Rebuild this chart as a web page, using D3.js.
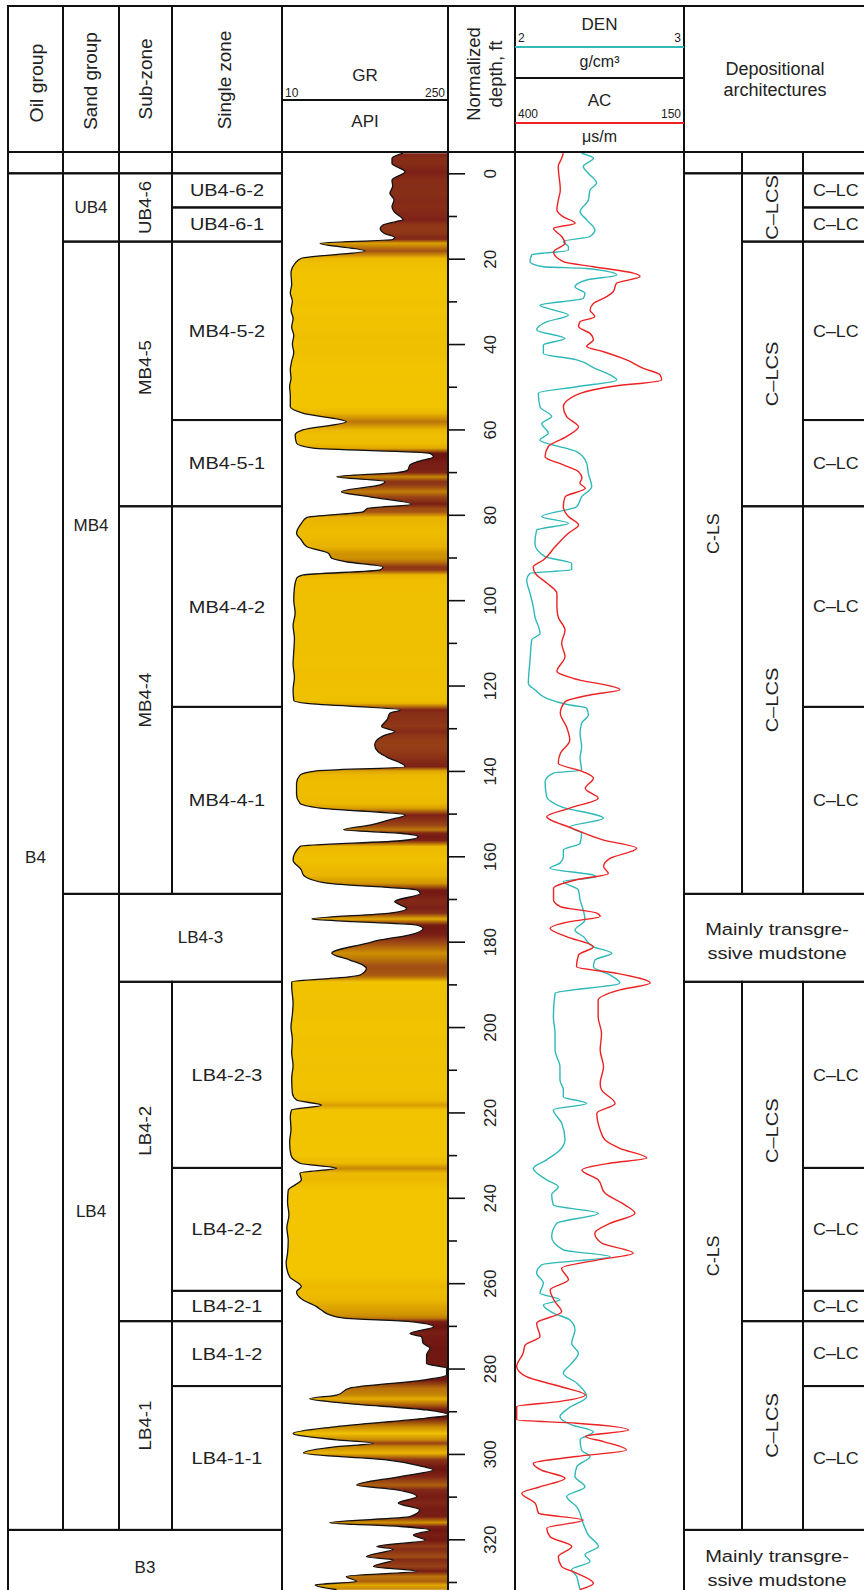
<!DOCTYPE html>
<html><head><meta charset="utf-8">
<script src="https://cdn.jsdelivr.net/npm/d3@7/dist/d3.min.js"></script>
<style>
body{margin:0;background:#fff}
svg{display:block}
text{font-family:"Liberation Sans",Arial,sans-serif;fill:#222}
</style>
</head><body>
<svg id="chart" width="864" height="1590"></svg>
<script>
// ---------- DATA ----------
const grRange = [10, 250];
const denRange = [2, 3];
const acRange = [400, 150];
const depthTicks = d3.range(0, 331, 10);
const depthLabels = d3.range(0, 321, 20);

// [depth ft, GR API]
const grLog = [[-4.7,185],[-3.5,169],[-2.3,169],[-0.4,188],[1.6,169],[3,170],[4.7,166],[6.2,172],[7.8,169],[9,172],[10.9,185],[11.3,175],[12.1,156],[12.9,152],[14.1,158],[15,173],[15.5,170],[16.4,65],[18.2,130],[19.9,38],[21.1,29],[23.4,23],[26,24],[28,22],[30,25],[32,23],[34,26],[36,24],[38,27],[40,25],[42,27],[44,24],[46,22],[48,23],[50,21],[52,22],[54.7,22],[56.2,40],[58.2,103],[60.1,40],[61.3,29],[63.2,31],[64.4,55],[65.6,224],[66.4,229],[67.6,205],[68.3,195],[69.5,192],[70.1,176],[71.1,89],[72.2,159],[73,152],[74.6,96],[75.8,137],[77.5,197],[78.5,134],[79.3,127],[80.6,46],[82,38],[84.3,31],[85.9,38],[87.5,46],[89,77],[90.2,82],[91,103],[92.2,156],[92.9,152],[94.1,41],[94.9,31],[97,28],[100,27],[103,29],[106,26],[109,28],[112,27],[115,26],[118,28],[121,26],[123.5,27],[124.2,46],[125.7,181],[126.5,166],[128,162],[129.6,154],[130.8,173],[131.6,159],[132.8,147],[133.9,144],[135.5,149],[136.7,161],[139,188],[140,60],[141,36],[142.9,31],[145.6,31],[147.6,36],[148.7,65],[150.3,188],[151.5,164],[152.7,137],[153.8,99],[154.6,181],[155.4,207],[156.3,185],[157.7,36],[160.9,26],[163.2,38],[164.4,41],[166.3,75],[167.9,205],[168.7,210],[170.6,173],[171.4,181],[172.2,190],[173.3,166],[174.7,53],[175.3,113],[176.1,205],[176.9,214],[178.4,195],[179.6,152],[180.4,132],[182.7,82],[184.3,108],[185.5,127],[186.2,132],[187.8,123],[188.3,104],[189.4,24],[190.5,24],[194.4,26],[197,25],[200,23],[203,25],[206,24],[209,26],[212,24],[215.5,25],[217.1,31],[218.3,67],[219.4,24],[221,22],[224,23],[227,21],[230,23],[231.9,36],[233.1,89],[234.2,36],[235.8,38],[238.2,19],[241,18],[244,20],[247,17],[250,19],[253,18],[255.3,16],[258.5,21],[260.8,38],[262,31],[263.9,40],[265.5,60],[266.3,67],[267.4,79],[268.2,100],[269,195],[270.2,229],[271.8,195],[272.6,212],[274.1,214],[275.2,224],[276.8,219],[278.8,219],[279.9,248],[281.5,248],[282.7,214],[284.6,108],[286.2,89],[287.1,50],[288.1,99],[289.7,219],[290.9,250],[291.6,219],[293.6,89],[295.2,26],[296.7,89],[297.5,142],[298.3,89],[299.8,41],[301.4,161],[303,214],[303.7,229],[305.3,181],[307.3,118],[308.4,176],[310,205],[311.5,178],[313.1,209],[314.7,195],[316.1,79],[317,181],[317.8,224],[319,200],[320.2,217],[321.7,147],[322.3,171],[324.1,132],[324.8,171],[326.4,142],[327.5,205],[328.7,103],[329.9,118],[330.7,58],[331.8,89]];

// [depth ft, DEN g/cm3]
const denLog = [[-4.7,2.394],[-3.5,2.464],[-1.6,2.404],[0,2.434],[2.3,2.483],[3.9,2.444],[6.3,2.434],[9,2.385],[10.9,2.424],[13.3,2.473],[14.8,2.444],[16,2.286],[17.2,2.316],[18,2.316],[19.1,2.099],[20.7,2.089],[21.9,2.168],[22.3,2.424],[23.8,2.602],[25,2.424],[26.6,2.355],[28.1,2.414],[29.3,2.404],[30.9,2.148],[32,2.227],[33.2,2.316],[34.8,2.187],[36.7,2.128],[38.7,2.296],[40.2,2.168],[42.2,2.168],[43.7,2.365],[45.7,2.473],[47.2,2.562],[48.4,2.602],[50,2.365],[51.5,2.138],[54.7,2.148],[57,2.217],[58.6,2.158],[60.9,2.197],[62.5,2.148],[65.2,2.365],[67.9,2.424],[70.3,2.434],[73.4,2.454],[75.8,2.394],[78.1,2.365],[80.4,2.158],[82,2.316],[83.6,2.128],[86.7,2.118],[89.8,2.178],[91.4,2.335],[92.9,2.335],[93.7,2.089],[95.3,2.069],[98.4,2.089],[101.5,2.108],[103.9,2.118],[107.8,2.148],[109.3,2.099],[114,2.089],[119.5,2.079],[121,2.118],[123,2.187],[124.5,2.316],[125.3,2.424],[126.9,2.434],[128.8,2.394],[131.2,2.385],[134.3,2.394],[137,2.385],[139.8,2.394],[140.5,2.227],[142.5,2.178],[146,2.187],[148.4,2.276],[151.1,2.523],[153.1,2.325],[154.6,2.394],[157,2.385],[158.5,2.286],[160.1,2.286],[161.6,2.266],[162.8,2.207],[164.4,2.464],[164.8,2.483],[165.9,2.286],[167.9,2.375],[170.2,2.385],[172.6,2.404],[174.9,2.414],[177.3,2.355],[178.8,2.404],[181.2,2.464],[182.7,2.572],[184.3,2.473],[185.9,2.464],[187.8,2.562],[189.7,2.621],[192.1,2.237],[197.6,2.227],[201.5,2.237],[205.4,2.237],[209.3,2.266],[212.4,2.266],[214.7,2.286],[216.3,2.286],[217.9,2.424],[219.4,2.227],[222.5,2.276],[226.4,2.296],[228.8,2.266],[231.1,2.187],[233.1,2.108],[235.8,2.187],[237.4,2.256],[239.3,2.217],[241.7,2.227],[243.6,2.493],[246,2.246],[249.1,2.217],[252.2,2.286],[253.8,2.562],[255.7,2.158],[257.6,2.128],[260,2.168],[262.3,2.148],[263.9,2.266],[265.1,2.168],[267,2.227],[268.6,2.325],[270.9,2.355],[274.1,2.335],[276.4,2.375],[278.8,2.335],[281.1,2.286],[283.4,2.365],[286.6,2.424],[289.3,2.316],[291.3,2.266],[293.2,2.335],[294.8,2.464],[296.7,2.385],[299.1,2.394],[300.6,2.444],[303,2.365],[305.3,2.355],[307.7,2.414],[310,2.306],[312.4,2.365],[316.3,2.404],[319,2.434],[321.7,2.493],[323.6,2.414],[325.2,2.444],[327.1,2.335],[328.7,2.365],[330.3,2.375],[331.8,2.385]];

// [depth ft, AC us/m]
const acLog = [[-4.7,328.5],[-3.5,331],[-1.6,336],[3.9,333],[6.3,336],[8.6,338],[10.2,328.5],[11.7,311],[12.9,343],[14.8,331],[16.4,326],[18.4,343],[20.7,328.5],[21.9,284],[23.4,225],[24.2,215],[25.8,250],[27.7,254.5],[28.9,264.4],[30.5,284],[32,289],[33.6,282],[34.8,304],[35.9,306],[37.5,289],[39,284],[40.6,294],[41.8,269],[43.7,235],[45.7,210],[47.2,185.5],[48.4,183],[50,259.5],[51.9,309],[54.7,328.5],[57,323.6],[59.4,306],[61.7,324],[64,350.7],[66.4,355.6],[68.3,328.5],[69.9,306],[71.4,301],[72.6,304],[73.8,296],[75.8,326],[78.1,328.5],[80.4,321],[82.4,306],[84.3,321],[87.5,340.8],[90.6,358],[92.2,373],[93.7,370],[96,353],[98.4,338],[101.5,338],[104,336],[107,326],[110.1,331],[113.2,326],[116.7,338],[118.3,314],[121,245],[122.2,289],[123.8,326],[126.5,333],[129.6,324],[132.8,319],[135.9,333],[138.2,336],[140.2,299],[141.7,284],[144.1,296],[146.4,277],[148.7,319],[150.7,353],[153.4,316],[156.2,269],[158.1,220],[160.5,259.5],[162.4,269],[164,262],[165.5,309],[167.5,343],[170.2,343],[171.8,333],[173.3,279],[174.1,274],[175.3,319],[176.9,348],[178.8,324],[181.2,284],[183.1,306],[185.9,309],[187.4,250],[189.7,200],[191.3,245],[193.7,277],[197.6,277],[201.5,272],[205.4,274],[209.3,269],[213.2,274],[214.7,272],[217.9,252],[220.2,279],[224.1,274],[226.4,267],[228.4,245],[230.7,205],[231.9,260],[233.5,301],[235.8,277],[238.9,267],[241.7,237],[243.6,222.5],[246,259.5],[248.3,282],[250.6,272],[253,225],[254.6,279],[256.5,331],[259.2,321],[261.6,348],[264.3,341],[266.7,331],[269.4,368],[272.5,363],[274.5,385],[276.4,388],[279.5,397.5],[281.9,383],[284.2,333],[286.2,296],[287.7,333],[288.9,397.5],[292,397.5],[292.8,309],[294.4,232],[295.9,296],[297.1,269],[299.1,235],[300.6,309],[302.2,373],[303.8,361],[305.7,326],[307.7,363],[309.2,390],[311.6,370],[313.9,365],[315.5,299],[317.4,353],[319.4,348],[321.7,316],[324.1,336],[326.4,331],[327.9,309],[330.3,284],[331.8,304]];

// zone tables: [label, top ft, base ft, (label depth)]
const oilGroups = [["B4",0,317.8,160.2],["B3",317.8,345,326.5]];
const sandGroups = [["UB4",0,16],["MB4",16,168.8,82.4],["LB4",168.8,317.8]];
const subZones = [["UB4-6",0,16],["MB4-5",16,78,45.5],["MB4-4",78,168.8],["LB4-3",168.8,189.4],["LB4-2",189.4,268.9,224.3],["LB4-1",268.9,317.8]];
const singleZones = [["UB4-6-2",0,8],["UB4-6-1",8,16],["MB4-5-2",16,57.8],["MB4-5-1",57.8,78],["MB4-4-2",78,125],["MB4-4-1",125,168.8],["LB4-2-3",189.4,233],["LB4-2-2",233,261.8],["LB4-2-1",261.8,268.9],["LB4-1-2",268.9,284.1],["LB4-1-1",284.1,317.8]];
const archBelts = [["C-LS",0,168.8],["Mainly transgre-|ssive mudstone",168.8,189.4,179.8],["C-LS",189.4,317.8],["Mainly transgre-|ssive mudstone",317.8,345,326.7]];
const archComplexes = [["C–LCS",0,16],["C–LCS",16,78],["C–LCS",78,168.8],["C–LCS",189.4,268.9,224.3],["C–LCS",268.9,317.8]];
const archSingles = [["C–LC",0,8],["C–LC",8,16],["C–LC",16,57.8],["C–LC",57.8,78],["C–LC",78,125],["C–LC",125,168.8],["C–LC",189.4,233],["C–LC",233,261.8],["C–LC",261.8,268.9],["C–LC",268.9,284.1],["C–LC",284.1,317.8]];

// ---------- LAYOUT ----------
const W = 864, H = 1590;
const X = {oil:8, sand:63, sub:119, single:172, gr:282, depth:448, logs:515, arch:684, arch2:742, arch3:803, end:880};
const TOP = 6, HEAD = 152;
const svg = d3.select("#chart");
const y = d3.scaleLinear().domain([0, 320]).range([173.3, 1539.3]);
const xGR = d3.scaleLinear().domain(grRange).range([X.gr, X.depth]);
const xDEN = d3.scaleLinear().domain(denRange).range([X.logs, X.arch]);
const xAC = d3.scaleLinear().domain(acRange).range([X.logs, X.arch]);
const grColor = d3.scaleLinear()
  .domain([20, 45, 80, 110, 140, 180, 230])
  .range(["#f2c500","#e9b300","#cf9200","#b56c0c","#984216","#802418","#6c1410"])
  .clamp(true);

const LW = 2;
function label(x, yy, s, o = {}) {
  return svg.append("text")
    .attr("transform", `translate(${x},${yy}) rotate(${o.rot || 0}) scale(${o.sx || 1},1)`)
    .attr("text-anchor", o.anchor || "middle")
    .attr("dominant-baseline", o.base || "central")
    .style("font-size", (o.size || 18) + "px")
    .text(s);
}

// ---------- GR fill ----------
const defs = svg.append("defs");
defs.append("clipPath").attr("id", "grClip").append("rect")
  .attr("x", X.gr).attr("y", HEAD).attr("width", X.depth - X.gr).attr("height", H - HEAD);
const dMin = grLog[0][0], dMax = grLog[grLog.length - 1][0];
const grad = defs.append("linearGradient").attr("id", "grGrad")
  .attr("gradientUnits", "userSpaceOnUse")
  .attr("x1", 0).attr("x2", 0).attr("y1", y(dMin)).attr("y2", y(dMax));
grad.selectAll("stop").data(grLog).join("stop")
  .attr("offset", d => (y(d[0]) - y(dMin)) / (y(dMax) - y(dMin)))
  .attr("stop-color", d => grColor(d[1]));

const grArea = d3.area().curve(d3.curveMonotoneY)
  .y(d => y(d[0])).x0(X.depth).x1(d => xGR(d[1]));
const grLine = d3.line().curve(d3.curveMonotoneY)
  .y(d => y(d[0])).x(d => xGR(d[1]));
const grG = svg.append("g").attr("clip-path", "url(#grClip)");
grG.append("path").datum(grLog).attr("d", grArea).attr("fill", "url(#grGrad)");
grG.append("path").datum(grLog).attr("d", grLine).attr("fill", "none")
  .attr("stroke", "#111").attr("stroke-width", 1.3);

// ---------- DEN / AC ----------
defs.append("clipPath").attr("id", "logClip").append("rect")
  .attr("x", X.logs).attr("y", HEAD).attr("width", X.arch - X.logs).attr("height", H - HEAD);
const logG = svg.append("g").attr("clip-path", "url(#logClip)");
logG.append("path").datum(denLog)
  .attr("d", d3.line().curve(d3.curveMonotoneY).y(d => y(d[0])).x(d => xDEN(d[1])))
  .attr("fill", "none").attr("stroke", "#2fb8b8").attr("stroke-width", 1.4);
logG.append("path").datum(acLog)
  .attr("d", d3.line().curve(d3.curveMonotoneY).y(d => y(d[0])).x(d => xAC(d[1])))
  .attr("fill", "none").attr("stroke", "#ec2222").attr("stroke-width", 1.4);

// ---------- frame helpers ----------
function line(x1, y1, x2, y2, c = "#111", w = LW) {
  svg.append("line").attr("x1", x1).attr("y1", y1).attr("x2", x2).attr("y2", y2)
    .attr("stroke", c).attr("stroke-width", w);
}
function cell(x0, x1, y0, y1) {
  svg.append("rect").attr("x", x0).attr("y", y0).attr("width", x1 - x0).attr("height", y1 - y0)
    .attr("fill", "none").attr("stroke", "#111").attr("stroke-width", LW);
}
function zoneColumn(data, x0, x1, o) {
  data.forEach(z => {
    const y0 = y(z[1]), y1 = Math.min(y(z[2]), H + 20);
    cell(x0, x1, y0, y1);
    const cy = z[3] !== undefined ? y(z[3]) : (y0 + Math.min(y1, H)) / 2;
    const cx = o.cx !== undefined ? o.cx : (x0 + Math.min(x1, W)) / 2;
    const lines = z[0].split("|");
    if (lines.length > 1) {
      lines.forEach((s, i) => label(cx, cy + (i - (lines.length - 1) / 2) * 24, s, {size: o.size, sx: o.sx}));
    } else {
      label(cx, cy, z[0], {rot: o.rot ? -90 : 0, size: o.size, sx: o.sx});
    }
  });
}

// ---------- header ----------
[[X.oil, X.sand], [X.sand, X.sub], [X.sub, X.single], [X.single, X.gr], [X.gr, X.depth], [X.depth, X.logs], [X.logs, X.arch], [X.arch, X.end]]
  .forEach(c => cell(c[0], c[1], TOP, HEAD));
label(37, 83, "Oil group", {rot: -90, sx: 1.08});
label(91, 81, "Sand group", {rot: -90, sx: 1.05});
label(146, 79, "Sub-zone", {rot: -90, sx: 1.05});
label(225, 80, "Single zone", {rot: -90, sx: 1.05});
label(474, 74, "Normalized", {rot: -90, sx: 1.03});
label(496, 74, "depth, ft", {rot: -90, sx: 1.03});
line(X.gr, 100, X.depth, 100);
label((X.gr + X.depth) / 2, 81, "GR", {base: "alphabetic", size: 17});
label((X.gr + X.depth) / 2, 127, "API", {base: "alphabetic", size: 17});
label(X.gr + 3, 97, grRange[0], {anchor: "start", base: "alphabetic", size: 12});
label(X.depth - 3, 97, grRange[1], {anchor: "end", base: "alphabetic", size: 12});
const lc = (X.logs + X.arch) / 2;
label(lc, 30, "DEN", {base: "alphabetic", size: 17});
label(X.logs + 3, 42, denRange[0], {anchor: "start", base: "alphabetic", size: 12});
label(X.arch - 3, 42, denRange[1], {anchor: "end", base: "alphabetic", size: 12});
line(X.logs, 47, X.arch, 47, "#2fb8b8", 2);
label(lc, 67, "g/cm³", {base: "alphabetic", size: 16});
line(X.logs, 78, X.arch, 78);
label(lc, 106, "AC", {base: "alphabetic", size: 17});
label(X.logs + 3, 118, acRange[0], {anchor: "start", base: "alphabetic", size: 12});
label(X.arch - 3, 118, acRange[1], {anchor: "end", base: "alphabetic", size: 12});
line(X.logs, 123, X.arch, 123, "#ec2222", 2);
label(lc, 142, "μs/m", {base: "alphabetic", size: 16});
label(775, 75, "Depositional", {base: "alphabetic", size: 18});
label(775, 96, "architectures", {base: "alphabetic", size: 18});

// blank row under header
[[X.oil, X.sand], [X.sand, X.sub], [X.sub, X.single], [X.single, X.gr], [X.arch, X.arch2], [X.arch2, X.arch3], [X.arch3, X.end]]
  .forEach(c => cell(c[0], c[1], HEAD, y(0)));

// ---------- zone columns ----------
zoneColumn(oilGroups.slice(0, 1), X.oil, X.sand, {size: 17});
zoneColumn(oilGroups.slice(1), X.oil, X.gr, {size: 17});
zoneColumn(sandGroups, X.sand, X.sub, {size: 17});
subZones.forEach(z => {
  const hor = z[0] === "LB4-3";
  zoneColumn([z], X.sub, hor ? X.gr : X.single, {rot: !hor, size: 17, sx: hor ? 1 : 1.1});
});
zoneColumn(singleZones, X.single, X.gr, {size: 17, sx: 1.17});
archBelts.forEach(z => {
  const wide = z[0].indexOf("|") >= 0;
  zoneColumn([z], X.arch, wide ? X.end : X.arch2, wide ? {size: 17, sx: 1.18, cx: 777} : {rot: true, size: 17, sx: 1.05});
});
zoneColumn(archComplexes, X.arch2, X.arch3, {rot: true, size: 17, sx: 1.18});
archSingles.forEach(z => {
  const y0 = y(z[1]), y1 = y(z[2]);
  cell(X.arch3, X.end, y0, y1);
  label(X.arch3 + 10, (y0 + y1) / 2, z[0], {anchor: "start", size: 17, sx: 1.05});
});

// ---------- tracks ----------
cell(X.gr, X.depth, HEAD, H + 20);
cell(X.depth, X.logs, HEAD, H + 20);
cell(X.logs, X.arch, HEAD, H + 20);
line(X.oil, TOP, X.oil, H + 20);

// ---------- depth axis ----------
const minorAx = svg.append("g").attr("transform", `translate(${X.depth},0)`)
  .call(d3.axisRight(y).tickValues(depthTicks.filter(d => d % 20 !== 0)).tickSize(9).tickFormat(""));
const majorAx = svg.append("g").attr("transform", `translate(${X.depth},0)`)
  .call(d3.axisRight(y).tickValues(depthLabels).tickSize(17).tickPadding(0));
[minorAx, majorAx].forEach(a => {
  a.select(".domain").remove();
  a.selectAll(".tick line").attr("stroke", "#111").attr("stroke-width", 1.6);
});
majorAx.selectAll(".tick text")
  .attr("x", null).attr("dy", null)
  .attr("transform", "translate(42,0) rotate(-90)")
  .attr("text-anchor", "middle").attr("dominant-baseline", "central")
  .style("font-size", "17px").style("font-family", '"Liberation Sans",Arial,sans-serif').attr("fill", "#222");
</script>
</body></html>
